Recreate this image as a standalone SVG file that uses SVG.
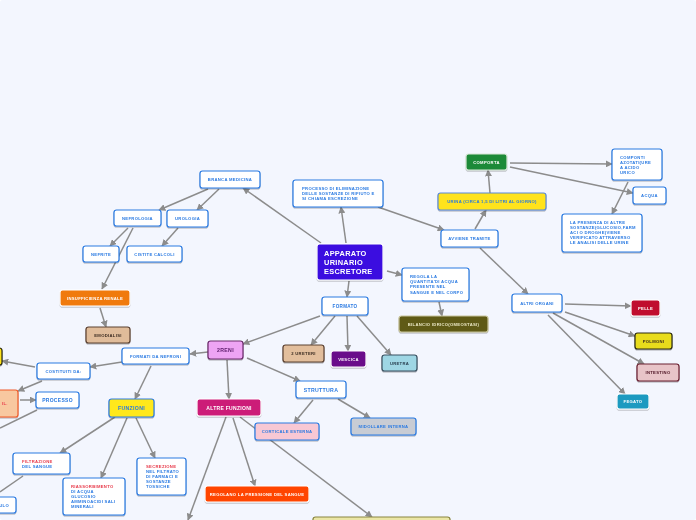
<svg xmlns="http://www.w3.org/2000/svg" width="696" height="520" viewBox="0 0 696 520">
<style>
.bg{fill:#f3f6fe}
.c line{stroke:#8c8c8c;stroke-width:1.5;marker-end:url(#a)}
.c line.na{marker-end:none}
rect{rx:2.5;ry:2.5;stroke-width:1.2}
.w rect{fill:#ffffff;stroke:#2a7ae2}
text{font-family:"Liberation Sans",Arial,sans-serif;font-weight:bold;font-size:4.2px;letter-spacing:0.3px}
.m{text-anchor:middle}
.b{fill:#2a7ae2}
.r{fill:#e83a4a}
.wt{fill:#ffffff}
.dk{fill:#3a2a20}
.big{font-size:5.2px}
.sh{filter:url(#s)}
</style>
<defs>
<marker id="a" viewBox="0 0 10 10" refX="9" refY="5" markerWidth="7" markerHeight="7" markerUnits="userSpaceOnUse" orient="auto"><path d="M0,0 L10,5 L0,10 z" fill="#8c8c8c"/></marker>
<filter id="s" x="-20%" y="-30%" width="140%" height="170%"><feDropShadow dx="0" dy="1" stdDeviation="0.7" flood-color="#000" flood-opacity="0.3"/></filter>
</defs>
<rect class="bg" x="0" y="0" width="696" height="520" rx="0" ry="0"/>
<g id="connectors" class="c">
<line x1="321" y1="243" x2="243" y2="188"/>
<line x1="346" y1="243" x2="341" y2="207"/>
<line x1="378" y1="207" x2="444" y2="230"/>
<line x1="387" y1="271" x2="402" y2="275"/>
<line x1="439" y1="302" x2="442" y2="316"/>
<line x1="349" y1="281" x2="347" y2="297"/>
<line x1="208" y1="189" x2="159" y2="210"/>
<line x1="219" y1="189" x2="197" y2="210"/>
<line x1="128" y1="228" x2="110" y2="246"/>
<line x1="133" y1="228" x2="102" y2="289"/>
<line x1="178" y1="228" x2="162" y2="246"/>
<line x1="100" y1="308" x2="106" y2="327"/>
<line x1="475" y1="229" x2="486" y2="210"/>
<line x1="490" y1="193" x2="488" y2="170"/>
<line x1="510" y1="163" x2="612" y2="164"/>
<line x1="510" y1="167" x2="633" y2="193"/>
<line x1="628" y1="182" x2="612" y2="214"/>
<line x1="480" y1="248" x2="528" y2="294"/>
<line x1="565" y1="304" x2="631" y2="306"/>
<line x1="565" y1="312" x2="635" y2="336"/>
<line x1="553" y1="313" x2="644" y2="364"/>
<line x1="548" y1="315" x2="625" y2="394"/>
<line x1="320" y1="316" x2="243" y2="344"/>
<line x1="335" y1="316" x2="311" y2="345"/>
<line x1="347" y1="316" x2="348" y2="351"/>
<line x1="357" y1="316" x2="391" y2="355"/>
<line x1="208" y1="352" x2="190" y2="354"/>
<line x1="227" y1="360" x2="229" y2="399"/>
<line x1="247" y1="358" x2="300" y2="381"/>
<line x1="313" y1="400" x2="294" y2="423"/>
<line x1="338" y1="399" x2="370" y2="418"/>
<line x1="122" y1="362" x2="90" y2="367"/>
<line x1="151" y1="366" x2="135" y2="399"/>
<line x1="35" y1="367" x2="2" y2="361"/>
<line x1="42" y1="381" x2="18" y2="391"/>
<line x1="20" y1="400" x2="36" y2="400"/>
<line x1="37" y1="410" x2="0" y2="428" class="na"/>
<line x1="115" y1="417" x2="60" y2="453"/>
<line x1="127" y1="418" x2="101" y2="478"/>
<line x1="136" y1="418" x2="155" y2="458"/>
<line x1="23" y1="476" x2="0" y2="492" class="na"/>
<line x1="226" y1="417" x2="188" y2="520"/>
<line x1="233" y1="418" x2="255" y2="486"/>
<line x1="240" y1="417" x2="372" y2="517"/>
</g>
<g id="n-apparato" class="sh"><rect x="317" y="244" width="66" height="36" fill="#3a10e0" stroke="#ffffff"/>
<text x="324" y="256" class="wt" style="font-size:7.4px">APPARATO</text><text x="324" y="265" class="wt" style="font-size:7.4px">URINARIO</text><text x="324" y="274" class="wt" style="font-size:7.4px">ESCRETORE</text></g>
<g id="n-branca" class="w sh"><rect x="200" y="171" width="60" height="17"/><text x="230" y="181" class="m b">BRANCA MEDICINA</text></g>
<g id="n-nefrologia" class="w sh"><rect x="114" y="210" width="47" height="16"/><text x="137.5" y="219.5" class="m b">NEFROLOGIA</text></g>
<g id="n-urologia" class="w sh"><rect x="167" y="210" width="41" height="17"/><text x="187.5" y="220" class="m b">UROLOGIA</text></g>
<g id="n-nefrite" class="w sh"><rect x="83" y="246" width="36" height="16"/><text x="101" y="255.5" class="m b">NEFRITE</text></g>
<g id="n-cistite" class="w sh"><rect x="127" y="246" width="55" height="16"/><text x="154.5" y="255.5" class="m b">CISTITE CALCOLI</text></g>
<g id="n-processo-elim" class="w sh"><rect x="293" y="180" width="90" height="27"/>
<text x="302" y="190" class="b">PROCESSO DI ELIMINAZIONE</text><text x="302" y="195" class="b">DELLE SOSTANZE DI RIFIUTO E</text><text x="302" y="200" class="b">SI CHIAMA ESCREZIONE</text></g>
<g id="n-regola" class="w sh"><rect x="402" y="268" width="67" height="33"/>
<text x="410" y="277.5" class="b">REGOLA LA</text><text x="410" y="283" class="b">QUANTITA'DI ACQUA</text><text x="410" y="288" class="b">PRESENTE NEL</text><text x="410" y="293.5" class="b">SANGUE E NEL CORPO</text></g>
<g id="n-bilancio" class="sh"><rect x="399" y="316" width="89" height="16" fill="#5e5a18" stroke="#c8c49a"/><text x="443.5" y="325.5" class="m" fill="#ece8c4">BILANCIO IDRICO(OMEOSTASI)</text></g>
<g id="n-urina" class="sh"><rect x="438" y="193" width="108" height="17" fill="#ffe31a" stroke="#5a8ad8"/><text x="492" y="203" class="m b">URINA (CIRCA 1,5 DI LITRI AL GIORNO)</text></g>
<g id="n-comporta" class="sh"><rect x="466" y="154" width="41" height="16" fill="#1e8a38" stroke="#d8e8d8"/><text x="486.5" y="163.5" class="m wt">COMPORTA</text></g>
<g id="n-componti" class="w sh"><rect x="612" y="149" width="50" height="31"/>
<text x="620" y="159" class="b">COMPONTI</text><text x="620" y="164" class="b">AZOTATI(URE</text><text x="620" y="169" class="b">A ACIDO</text><text x="620" y="174" class="b">URICO</text></g>
<g id="n-acqua" class="w sh"><rect x="633" y="187" width="33" height="17"/><text x="649.5" y="197" class="m b">ACQUA</text></g>
<g id="n-presenza" class="w sh"><rect x="562" y="214" width="80" height="38"/>
<text x="570" y="224" class="b">LA PRESENZA DI ALTRE</text><text x="570" y="229" class="b">SOSTANZE(GLUCOSIO,FARM</text><text x="570" y="234" class="b">ACI O DROGHE)VIENE</text><text x="570" y="239" class="b">VERIFICATO ATTRAVERSO</text><text x="570" y="244" class="b">LE ANALISI DELLE URINE</text></g>
<g id="n-avviene" class="w sh"><rect x="441" y="230" width="57" height="17"/><text x="469.5" y="240" class="m b">AVVIENE TRAMITE</text></g>
<g id="n-altri" class="w sh"><rect x="512" y="294" width="50" height="18"/><text x="537" y="304.5" class="m b">ALTRI ORGANI</text></g>
<g id="n-pelle" class="sh"><rect x="631" y="300" width="29" height="16" fill="#c0102e" stroke="#ffffff"/><text x="645.5" y="309.5" class="m wt">PELLE</text></g>
<g id="n-polmoni" class="sh"><rect x="635" y="333" width="37" height="16" fill="#e8dc1a" stroke="#2a2a10"/><text x="653.5" y="342.5" class="m dk">POLMONI</text></g>
<g id="n-intestino" class="sh"><rect x="637" y="364" width="42" height="17" fill="#e8c4c8" stroke="#6a2030"/><text x="658" y="374" class="m" fill="#4a1020">INTESTINO</text></g>
<g id="n-fegato" class="sh"><rect x="617" y="394" width="32" height="15" fill="#1a9ac0" stroke="#ffffff"/><text x="633" y="403" class="m wt">FEGATO</text></g>
<g id="n-formato" class="w sh"><rect x="322" y="297" width="46" height="18"/><text x="345" y="307.5" class="m b" style="font-size:4.6px">FORMATO</text></g>
<g id="n-ureteri" class="sh"><rect x="283" y="345" width="41" height="17" fill="#e2be9c" stroke="#5a4030"/><text x="303.5" y="355" class="m dk">2 URETERI</text></g>
<g id="n-vescica" class="sh"><rect x="331" y="351" width="35" height="16" fill="#6a0a8a" stroke="#ffffff"/><text x="348.5" y="360.5" class="m wt">VESCICA</text></g>
<g id="n-uretra" class="sh"><rect x="382" y="355" width="35" height="16" fill="#9ed6e4" stroke="#3a5060"/><text x="399.5" y="364.5" class="m" fill="#2a4050">URETRA</text></g>
<g id="n-2reni" class="sh"><rect x="208" y="341" width="35" height="18" fill="#eea4f4" stroke="#6a2a6a"/><text x="225.5" y="352" class="m big" fill="#5a1a6a">2RENI</text></g>
<g id="n-formati" class="w sh"><rect x="122" y="348" width="67" height="16"/><text x="155.5" y="357.5" class="m b">FORMATI DA NEFRONI</text></g>
<g id="n-insufficienza" class="sh"><rect x="60" y="290" width="70" height="16" fill="#f07a10" stroke="#ffffff"/><text x="95" y="299.5" class="m wt">INSUFFICIENZA RENALE</text></g>
<g id="n-emodialisi" class="sh"><rect x="86" y="327" width="44" height="16" fill="#e0bc9a" stroke="#5a4030"/><text x="108" y="336.5" class="m dk">EMODIALISI</text></g>
<g id="n-costituiti" class="w sh"><rect x="37" y="363" width="53" height="16"/><text x="63.5" y="372.5" class="m b">COSTITUITI DA:</text></g>
<g id="n-processo" class="w sh"><rect x="36" y="392" width="43" height="16"/><text x="57.5" y="402" class="m b" style="font-size:5px">PROCESSO</text></g>
<g id="n-left-orange" class="sh"><rect x="-10" y="390" width="28" height="27" fill="#f8c8a0" stroke="#f05a28"/><text x="2" y="405" class="r">IL.</text></g>
<g id="n-left-yellow" class="sh"><rect x="-20" y="348" width="22" height="17" fill="#ffe31a" stroke="#2a2a10"/></g>
<g id="n-funzioni" class="sh"><rect x="109" y="399" width="45" height="18" fill="#ffe81a" stroke="#2a7ae2"/><text x="131.5" y="410" class="m b big">FUNZIONI</text></g>
<g id="n-altre" class="sh"><rect x="197" y="399" width="64" height="17" fill="#cc1a78" stroke="#ffffff"/><text x="229" y="409.5" class="m wt" style="font-size:5px">ALTRE FUNZIONI</text></g>
<g id="n-struttura" class="w sh"><rect x="296" y="381" width="50" height="17"/><text x="321" y="391.5" class="m b big">STRUTTURA</text></g>
<g id="n-corticale" class="sh"><rect x="255" y="423" width="64" height="17" fill="#f8c8d4" stroke="#2a7ae2"/><text x="287" y="433" class="m b">CORTICALE ESTERNA</text></g>
<g id="n-midollare" class="sh"><rect x="351" y="418" width="65" height="17" fill="#c8ccd4" stroke="#2a7ae2"/><text x="383.5" y="428" class="m b">MIDOLLARE INTERNA</text></g>
<g id="n-filtrazione" class="w sh"><rect x="13" y="453" width="57" height="21"/><text x="22" y="463" class="r">FILTRAZIONE</text><text x="22" y="468" class="b">DEL SANGUE</text></g>
<g id="n-riassorbimento" class="w sh"><rect x="63" y="478" width="62" height="37"/>
<text x="71" y="488" class="r">RIASSORBIMENTO</text><text x="71" y="493" class="b">DI ACQUA</text><text x="71" y="498" class="b">GLUCOSIO</text><text x="71" y="503" class="b">AMMINOACIDI SALI</text><text x="71" y="508" class="b">MINERALI</text></g>
<g id="n-secrezione" class="w sh"><rect x="137" y="458" width="49" height="37"/>
<text x="146" y="468" class="r">SECREZIONE</text><text x="146" y="473" class="b">NEL FILTRATO</text><text x="146" y="478" class="b">DI FARMACI E</text><text x="146" y="483" class="b">SOSTANZE</text><text x="146" y="488" class="b">TOSSICHE</text></g>
<g id="n-left-bottom" class="w sh"><rect x="-30" y="497" width="46" height="16"/><text x="9" y="506.5" class="b" style="text-anchor:end">ULO</text></g>
<g id="n-regolano" class="sh"><rect x="205" y="486" width="104" height="16" fill="#ff4400" stroke="#ffffff"/><text x="257" y="495.5" class="m wt">REGOLANO LA PRESSIONE DEL SANGUE</text></g>
<g id="n-bottom-big" class="sh"><rect x="313" y="517" width="137" height="12" fill="#ebe6a6" stroke="#8a8640"/></g>
</svg>
